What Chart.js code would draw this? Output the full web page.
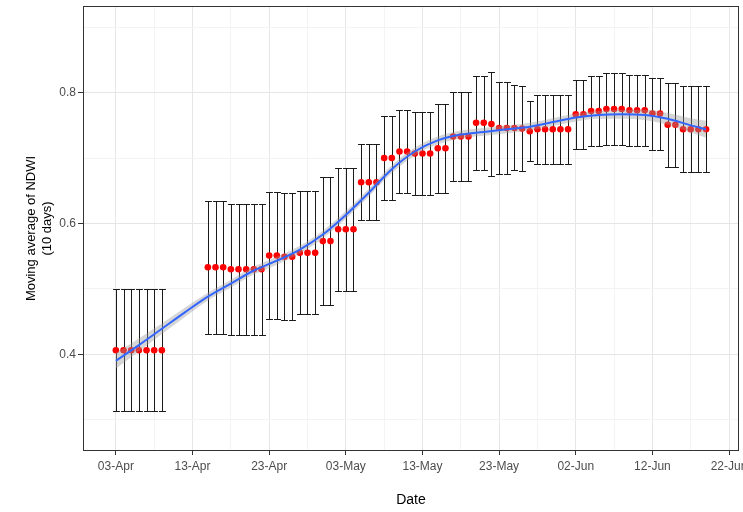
<!DOCTYPE html>
<html><head><meta charset="utf-8">
<script src="https://cdn.jsdelivr.net/npm/chart.js@4/dist/chart.umd.min.js"></script>
<style>html,body{margin:0;padding:0;background:#fff}</style>
</head><body>
<canvas id="c" width="743" height="512"></canvas>
<script>
// ---- data ----
const dates = ["04-03","04-04","04-05","04-06","04-07","04-08","04-09",
  "04-15","04-16","04-17","04-18","04-19","04-20","04-21","04-22",
  "04-23","04-24","04-25","04-26","04-27","04-28","04-29","04-30",
  "05-01","05-02","05-03","05-04","05-05","05-06","05-07","05-08",
  "05-09","05-10","05-11","05-12","05-13","05-14","05-15","05-16",
  "05-17","05-18","05-19","05-20","05-21","05-22","05-23","05-24",
  "05-25","05-26","05-27","05-28","05-29","05-30","05-31","06-01",
  "06-02","06-03","06-04","06-05","06-06","06-07","06-08","06-09",
  "06-10","06-11","06-12","06-13","06-14","06-15","06-16","06-17",
  "06-18","06-19"];
const means = [0.406,0.406,0.406,0.406,0.406,0.406,0.406,
  0.533,0.533,0.533,0.530,0.530,0.530,0.530,0.530,
  0.551,0.551,0.549,0.549,0.555,0.555,0.555,0.573,
  0.573,0.591,0.591,0.591,0.663,0.663,0.663,0.700,
  0.700,0.710,0.710,0.707,0.707,0.707,0.715,0.715,
  0.733,0.733,0.733,0.754,0.754,0.752,0.746,0.746,
  0.746,0.745,0.741,0.744,0.744,0.744,0.744,0.744,
  0.767,0.767,0.772,0.772,0.775,0.775,0.775,0.773,
  0.773,0.773,0.768,0.768,0.751,0.751,0.744,0.744,
  0.744,0.744];
const sds = [0.093,0.093,0.093,0.093,0.093,0.093,0.093,
  0.102,0.102,0.102,0.100,0.100,0.100,0.100,0.100,
  0.097,0.097,0.097,0.097,0.094,0.094,0.094,0.098,
  0.098,0.094,0.094,0.094,0.058,0.058,0.058,0.064,
  0.064,0.064,0.064,0.064,0.064,0.064,0.068,0.068,
  0.068,0.068,0.068,0.072,0.072,0.079,0.071,0.071,
  0.065,0.065,0.046,0.053,0.053,0.053,0.053,0.053,
  0.053,0.053,0.054,0.054,0.055,0.055,0.055,0.054,
  0.054,0.054,0.055,0.055,0.064,0.064,0.066,0.066,
  0.066,0.066];
// loess smooth (blue line) and its standard-error band
const smoothDates = ["04-03","04-06","04-09","04-12","04-15","04-18","04-21","04-24","04-27",
  "04-30","05-03","05-06","05-09","05-12","05-15","05-18","05-21","05-24","05-27",
  "05-30","06-02","06-05","06-08","06-11","06-14","06-17","06-19"];
const smoothVals = [0.390,0.414,0.439,0.464,0.488,0.508,0.528,0.543,0.560,
  0.583,0.613,0.647,0.683,0.710,0.727,0.736,0.740,0.744,0.748,
  0.755,0.762,0.766,0.767,0.766,0.760,0.750,0.744];
const smoothSE = [0.012,0.010,0.008,0.007,0.006,0.006,0.006,0.006,0.006,
  0.006,0.006,0.006,0.006,0.006,0.006,0.006,0.006,0.006,0.006,
  0.006,0.006,0.006,0.007,0.008,0.009,0.011,0.013];
// axis ticks
const xTickDates = ["04-03","04-13","04-23","05-03","05-13","05-23","06-02","06-12","06-22"];
const xTickLabels = ["03-Apr","13-Apr","23-Apr","03-May","13-May","23-May","02-Jun","12-Jun","22-Jun"];
const xMinorDates = ["04-08","04-18","04-28","05-08","05-18","05-28","06-07","06-17"];
const yTicks = [0.4, 0.6, 0.8];
const yTickLabels = ["0.4", "0.6", "0.8"];
const yMinor = [0.3, 0.5, 0.7, 0.9];

// ---- helpers ----
function dayOf(s){ const [m,d] = s.split('-').map(Number); return (Date.UTC(2021,m-1,d) - Date.UTC(2021,3,3)) / 86400000; }
const xDays = dates.map(dayOf);
const xMajor = xTickDates.map(dayOf);
const xMinor = xMinorDates.map(dayOf);
const sDays = smoothDates.map(dayOf);
const isMajorX = v => xMajor.some(t => Math.abs(t - v) < 1e-6);
const isMajorY = v => yTicks.some(t => Math.abs(t - v) < 1e-6);

const errPlugin = {
  id: 'errbars',
  beforeDatasetsDraw(chart) {
    const {ctx, scales: {x, y}} = chart;
    ctx.save();
    ctx.strokeStyle = '#1a1a1a';
    ctx.lineWidth = 1;
    xDays.forEach((d, i) => {
      const px = Math.round(x.getPixelForValue(d)) + 0.5;
      const hw = x.getPixelForValue(d + 0.45) - x.getPixelForValue(d);
      const yLo = Math.round(y.getPixelForValue(means[i] - sds[i])) + 0.5;
      const yHi = Math.round(y.getPixelForValue(means[i] + sds[i])) + 0.5;
      ctx.beginPath();
      ctx.moveTo(px, yLo); ctx.lineTo(px, yHi);
      ctx.moveTo(px - hw, yLo); ctx.lineTo(px + hw, yLo);
      ctx.moveTo(px - hw, yHi); ctx.lineTo(px + hw, yHi);
      ctx.stroke();
    });
    ctx.restore();
  },
  afterDraw(chart) {
    const {ctx, chartArea: a} = chart;
    ctx.save();
    ctx.strokeStyle = '#333333';
    ctx.lineWidth = 1;
    ctx.strokeRect(a.left + 0.5, a.top + 0.5, a.right - a.left - 1, a.bottom - a.top - 1);
    ctx.restore();
  }
};

const FONT = "'Liberation Sans', Arial, sans-serif";

new Chart(document.getElementById('c'), {
  type: 'line',
  data: {
    datasets: [
      { // blue smooth line
        data: sDays.map((d, i) => ({x: d, y: smoothVals[i]})),
        borderColor: '#3366FF', borderWidth: 2, pointRadius: 0,
        cubicInterpolationMode: 'monotone', fill: false, order: 0
      },
      { // band upper
        data: sDays.map((d, i) => ({x: d, y: smoothVals[i] + smoothSE[i]})),
        borderWidth: 0, borderColor: 'rgba(0,0,0,0)', pointRadius: 0,
        cubicInterpolationMode: 'monotone', fill: false, order: 1
      },
      { // band lower
        data: sDays.map((d, i) => ({x: d, y: smoothVals[i] - smoothSE[i]})),
        borderWidth: 0, borderColor: 'rgba(0,0,0,0)', pointRadius: 0,
        cubicInterpolationMode: 'monotone', fill: '-1',
        backgroundColor: 'rgba(153,153,153,0.4)', order: 1
      },
      { // red points
        data: xDays.map((d, i) => ({x: d, y: means[i]})),
        showLine: false, pointRadius: 3.3, pointBackgroundColor: '#FF0000',
        pointBorderWidth: 0, pointBorderColor: '#FF0000', order: 2
      }
    ]
  },
  options: {
    responsive: false, animation: false, devicePixelRatio: 1,
    layout: {padding: {top: 6, right: 2, left: 0, bottom: 0}},
    plugins: {legend: {display: false}, tooltip: {enabled: false}},
    scales: {
      x: {
        type: 'linear', min: -4.29, max: 81.3,
        afterBuildTicks: s => { s.ticks = [...xMajor, ...xMinor].sort((a,b)=>a-b).map(v => ({value: v})); },
        afterFit: s => { s.height = 61; s.paddingLeft = 0; s.paddingRight = 0; },
        grid: {
          color: c => (c.tick && isMajorX(c.tick.value)) ? '#E6E6E6' : '#F3F3F3',
          lineWidth: 1, drawTicks: true, tickLength: 4,
          tickColor: c => (c.tick && isMajorX(c.tick.value)) ? '#333333' : 'rgba(0,0,0,0)'
        },
        border: {display: false},
        ticks: {
          autoSkip: false, maxRotation: 0, padding: 4, color: '#4D4D4D',
          font: {family: FONT, size: 12},
          callback: v => { const k = xMajor.findIndex(t => Math.abs(t - v) < 1e-6); return k >= 0 ? xTickLabels[k] : ''; }
        },
        title: {display: true, text: 'Date', color: '#000', font: {family: FONT, size: 14}, padding: {top: 0, bottom: 3}}
      },
      y: {
        type: 'linear', min: 0.252, max: 0.9325,
        afterBuildTicks: s => { s.ticks = [...yMinor, ...yTicks].sort((a,b)=>a-b).map(v => ({value: v})); },
        afterFit: s => { s.width = 83; s.paddingTop = 0; s.paddingBottom = 0; },
        grid: {
          color: c => (c.tick && isMajorY(c.tick.value)) ? '#E6E6E6' : '#F3F3F3',
          lineWidth: 1, drawTicks: true, tickLength: 5,
          tickColor: c => (c.tick && isMajorY(c.tick.value)) ? '#333333' : 'rgba(0,0,0,0)'
        },
        border: {display: false},
        ticks: {
          autoSkip: false, padding: 2, color: '#4D4D4D',
          font: {family: FONT, size: 12},
          callback: v => { const k = yTicks.findIndex(t => Math.abs(t - v) < 1e-6); return k >= 0 ? yTickLabels[k] : ''; }
        },
        title: {display: true, text: ['Moving average of NDWI', '(10 days)'], color: '#000',
          font: {family: FONT, size: 13, lineHeight: 1.25}, padding: {top: 23, bottom: 0}}
      }
    }
  },
  plugins: [errPlugin]
});
</script>
</body></html>
